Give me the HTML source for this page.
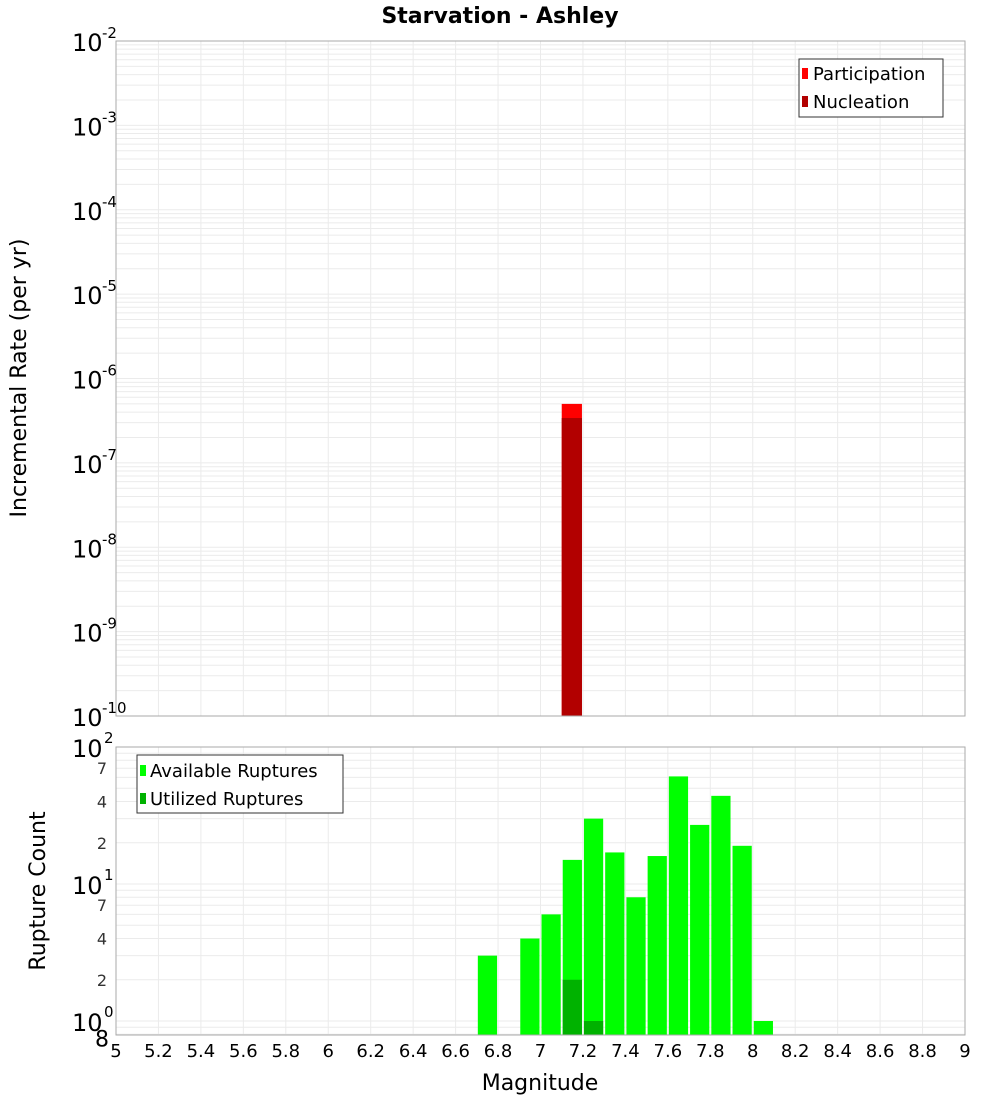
<!DOCTYPE html>
<html><head><meta charset="utf-8"><style>
body{margin:0;background:#fff;font-family:"DejaVu Sans","Liberation Sans",sans-serif}
svg{display:block;font-family:"DejaVu Sans","Liberation Sans",sans-serif}
</style></head><body>
<svg id="c" width="1000" height="1100" xmlns="http://www.w3.org/2000/svg"></svg>
<script>
const magBins=[6.75,6.95,7.05,7.15,7.25,7.35,7.45,7.55,7.65,7.75,7.85,7.95,8.05];
const availCounts=[3,4,6,15,30,17,8,16,61,27,44,19,1];
const utilMags=[7.15,7.25];
const utilCounts=[2,1];
const rateMags=[7.15];
const participationRates=[5e-7];
const nucleationRates=[3.4e-7];
const xTicks=[5,5.2,5.4,5.6,5.8,6,6.2,6.4,6.6,6.8,7,7.2,7.4,7.6,7.8,8,8.2,8.4,8.6,8.8,9];

const S=document.getElementById('c');const NS='http://www.w3.org/2000/svg';
function el(t,a,txt){const e=document.createElementNS(NS,t);for(const k in a)e.setAttribute(k,a[k]);if(txt!==undefined)e.textContent=txt;S.appendChild(e);return e;}
const X0=116,X1=965;
const x=m=>X0+(m-5)/4*(X1-X0);
const T0=41,T1=716;
const yT=v=>T0+(-2-Math.log10(v))/8*(T1-T0);
const B0=747,B1=1035,DEC=137;
const yB=v=>B0+(2-Math.log10(v))*DEC;

let e=el('text',{x:500,y:23,'text-anchor':'middle','font-size':22,'font-weight':'bold'},'Starvation - Ashley');


for(const t of xTicks){
  e=el('line',{x1:x(t),x2:x(t),y1:T0,y2:T1,stroke:'#ebebeb'});
  e=el('line',{x1:x(t),x2:x(t),y1:B0,y2:B1,stroke:'#ebebeb'});
}
for(let d=-10;d<-2;d++)for(let k=1;k<10;k++){
  const y=yT(k*Math.pow(10,d));
  e=el('line',{x1:X0,x2:X1,y1:y,y2:y,stroke:'#ebebeb'});
}
for(let d=-1;d<2;d++)for(let k=1;k<10;k++){
  const v=k*Math.pow(10,d);const y=yB(v);if(y>B1||y<B0)continue;
  e=el('line',{x1:X0,x2:X1,y1:y,y2:y,stroke:'#ebebeb'});
}
const bw=(X1-X0)/40;
rateMags.forEach((m,i)=>{
  e=el('rect',{x:x(m)-bw/2,y:yT(participationRates[i]),width:bw-1,height:T1-yT(participationRates[i]),fill:'#ff0000'});
  
  e=el('rect',{x:x(m)-bw/2,y:yT(nucleationRates[i]),width:bw-1,height:T1-yT(nucleationRates[i]),fill:'#b20000'});
  
});
magBins.forEach((m,i)=>{
  e=el('rect',{x:x(m)-bw/2+1,y:yB(availCounts[i]),width:bw-2,height:B1-yB(availCounts[i]),fill:'#00ff00'});
  
});
utilMags.forEach((m,i)=>{
  e=el('rect',{x:x(m)-bw/2+1,y:yB(utilCounts[i]),width:bw-2,height:B1-yB(utilCounts[i]),fill:'#00b200'});
  
});
e=el('rect',{x:X0,y:T0,width:X1-X0,height:T1-T0,fill:'none',stroke:'#aaa'});
e=el('rect',{x:X0,y:B0,width:X1-X0,height:B1-B0,fill:'none',stroke:'#aaa'});
for(let d=-10;d<=-2;d++){
  const y=yT(Math.pow(10,d));
  e=el('text',{x:72,y:y+10,'font-size':24},'10');
  e=el('text',{x:102,y:y-3,'font-size':15},String(d));
}
for(let d=0;d<=2;d++){
  const y=yB(Math.pow(10,d));
  e=el('text',{x:72,y:y+10,'font-size':24},'10');
  e=el('text',{x:104,y:y-4,'font-size':15},String(d));
}
for(const dd of [1,0])for(const k of [7,4,2]){
  const y=yB(k*Math.pow(10,dd));
  e=el('text',{x:102,y:y+6,'font-size':16,'text-anchor':'middle',fill:'#333'},String(k));
}
e=el('text',{x:102,y:yB(0.8)+12,'font-size':22,'text-anchor':'middle'},'8');
for(const t of xTicks){
  e=el('text',{x:x(t),y:1057,'font-size':18,'text-anchor':'middle'},String(t));
}
e=el('text',{x:540,y:1090,'font-size':22,'text-anchor':'middle'},'Magnitude');
e=el('text',{x:0,y:0,'font-size':22,'text-anchor':'middle',transform:'translate(26,378) rotate(-90)'},'Incremental Rate (per yr)');
e=el('text',{x:0,y:0,'font-size':22,'text-anchor':'middle',transform:'translate(45,891) rotate(-90)'},'Rupture Count');
e=el('rect',{x:799,y:59,width:144,height:58,fill:'#fff',stroke:'#333'});
e=el('rect',{x:802,y:68,width:6,height:11,fill:'#ff0000'});
e=el('text',{x:813,y:80,'font-size':18},'Participation');
e=el('rect',{x:802,y:96,width:6,height:11,fill:'#b20000'});
e=el('text',{x:813,y:108,'font-size':18},'Nucleation');
e=el('rect',{x:137,y:755,width:206,height:58,fill:'#fff',stroke:'#333'});
e=el('rect',{x:140,y:765,width:6,height:11,fill:'#00ff00'});
e=el('text',{x:150,y:777,'font-size':18},'Available Ruptures');
e=el('rect',{x:140,y:793,width:6,height:11,fill:'#00b200'});
e=el('text',{x:150,y:805,'font-size':18},'Utilized Ruptures');
</script>
</body></html>
